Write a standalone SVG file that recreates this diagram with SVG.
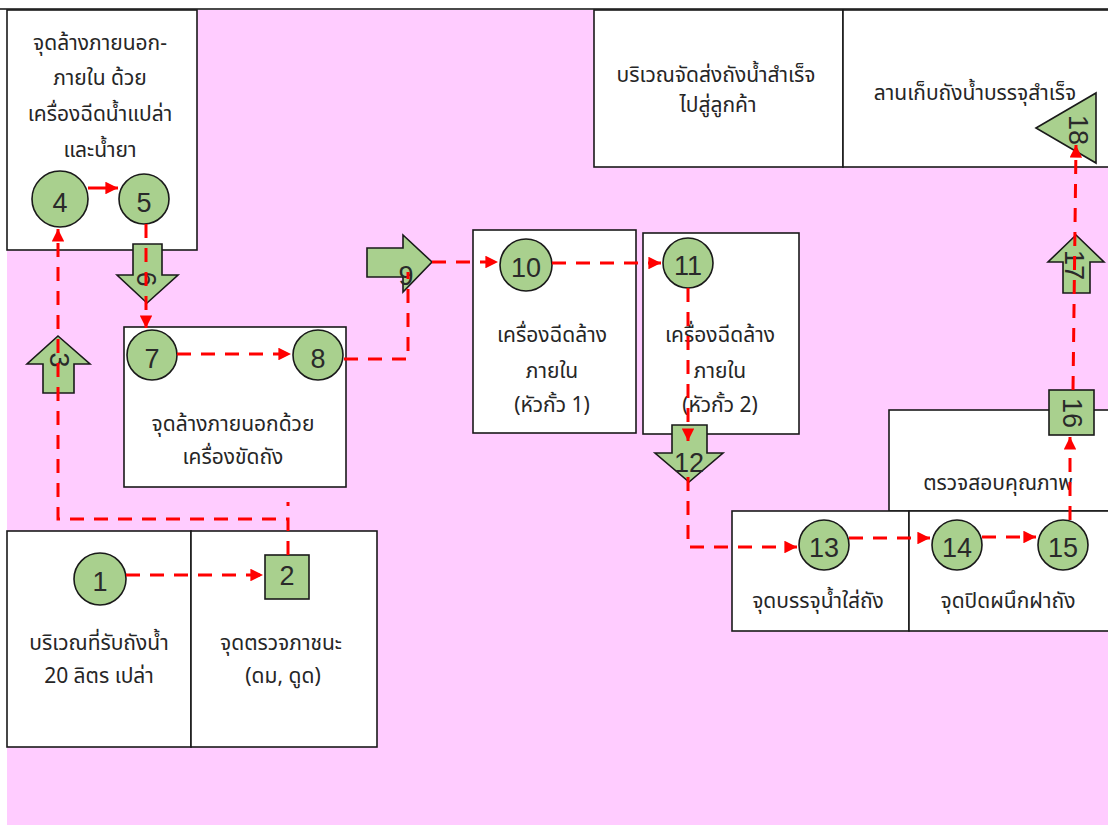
<svg xmlns="http://www.w3.org/2000/svg" width="1108" height="825" viewBox="0 0 1108 825">
  <defs>
    <style>
      .area { fill: #ffffff; stroke: #1a1a1a; stroke-width: 1.6; }
      .step { fill: #a9d08e; stroke: #1a1a1a; stroke-width: 1.6; }
      .num { font-family: "Liberation Sans", Arial, sans-serif; font-size: 27px; fill: #2a2a2a; text-anchor: middle; dominant-baseline: central; }
      .lbl { font-family: Tahoma, "Noto Sans Thai", "Leelawadee UI", "DejaVu Sans", sans-serif; font-size: 21px; fill: #262626; text-anchor: middle; }
      .flow { fill: none; stroke: #ff0000; stroke-width: 3; stroke-dasharray: 14 10; }
      .solid { fill: none; stroke: #ff0000; stroke-width: 3; }
    </style>
    <marker id="head" viewBox="0 0 10 10" refX="10" refY="5" markerWidth="4.2" markerHeight="4.2" orient="auto" markerUnits="strokeWidth">
      <path d="M0,0 L10,5 L0,10 Z" fill="#ff0000"/>
    </marker>
  </defs>

  <!-- floor background -->
  <rect x="0" y="0" width="1108" height="825" fill="#ffffff"/>
  <rect x="7" y="9" width="1101" height="816" fill="#ffccff"/>
  <line x1="0" y1="9" x2="1108" y2="9" stroke="#4a4a4a" stroke-width="2"/>

  <!-- zones -->
  <g id="zone-wash-in-out">
    <rect class="area" x="7" y="10" width="190" height="240"/>
    <text class="lbl" x="100" y="50">จุดล้างภายนอก-</text>
    <text class="lbl" x="100" y="85">ภายใน ด้วย</text>
    <text class="lbl" x="100" y="121">เครื่องฉีดน้ำแปล่า</text>
    <text class="lbl" x="100" y="157">และน้ำยา</text>
  </g>
  <g id="zone-dispatch">
    <rect class="area" x="594" y="10" width="249" height="157"/>
    <text class="lbl" x="716" y="82">บริเวณจัดส่งถังน้ำสำเร็จ</text>
    <text class="lbl" x="718" y="112">ไปสู่ลูกค้า</text>
  </g>
  <g id="zone-storage">
    <rect class="area" x="843" y="10" width="270" height="157"/>
    <text class="lbl" x="975" y="100">ลานเก็บถังน้ำบรรจุสำเร็จ</text>
  </g>
  <g id="zone-scrub">
    <rect class="area" x="124" y="327" width="222" height="160"/>
    <text class="lbl" x="233" y="431">จุดล้างภายนอกด้วย</text>
    <text class="lbl" x="233" y="464">เครื่องขัดถัง</text>
  </g>
  <g id="zone-rinse-1">
    <rect class="area" x="473" y="230" width="163" height="203"/>
    <text class="lbl" x="552" y="342">เครื่องฉีดล้าง</text>
    <text class="lbl" x="552" y="378">ภายใน</text>
    <text class="lbl" x="552" y="412">(หัวกั้ว 1)</text>
  </g>
  <g id="zone-rinse-2">
    <rect class="area" x="643" y="233" width="156" height="201"/>
    <text class="lbl" x="720" y="342">เครื่องฉีดล้าง</text>
    <text class="lbl" x="720" y="378">ภายใน</text>
    <text class="lbl" x="720" y="412">(หัวกั้ว 2)</text>
  </g>
  <g id="zone-qc">
    <rect class="area" x="889" y="410" width="224" height="101"/>
    <text class="lbl" x="998" y="490">ตรวจสอบคุณภาพ</text>
  </g>
  <g id="zone-fill">
    <rect class="area" x="732" y="511" width="177" height="120"/>
    <text class="lbl" x="818" y="608">จุดบรรจุน้ำใส่ถัง</text>
  </g>
  <g id="zone-seal">
    <rect class="area" x="909" y="511" width="204" height="120"/>
    <text class="lbl" x="1008" y="608">จุดปิดผนึกฝาถัง</text>
  </g>
  <g id="zone-receive">
    <rect class="area" x="7" y="531" width="184" height="216"/>
    <text class="lbl" x="99" y="650">บริเวณที่รับถังน้ำ</text>
    <text class="lbl" x="99" y="683">20 ลิตร เปล่า</text>
  </g>
  <g id="zone-inspect">
    <rect class="area" x="191" y="531" width="186" height="216"/>
    <text class="lbl" x="281" y="650">จุดตรวจภาชนะ</text>
    <text class="lbl" x="283" y="683">(ดม, ดูด)</text>
  </g>

  <!-- process steps -->
  <g id="step-1"><circle class="step" cx="100" cy="579" r="26"/><text class="num" x="100" y="582">1</text></g>
  <g id="step-2"><rect class="step" x="265" y="555" width="44" height="44"/><text class="num" x="287" y="576">2</text></g>
  <g id="step-3"><path class="step" d="M58,336 L90,364 L74,364 L74,393 L43,393 L43,364 L27,364 Z"/><text class="num" transform="translate(59,360) rotate(90)">3</text></g>
  <g id="step-4"><circle class="step" cx="60" cy="199" r="28"/><text class="num" x="60" y="203">4</text></g>
  <g id="step-5"><circle class="step" cx="144" cy="199" r="25"/><text class="num" x="144" y="203">5</text></g>
  <g id="step-6"><path class="step" d="M133,244 H162 V275 H178 L147,303 L117,275 H133 Z"/><text class="num" transform="translate(146,279) rotate(90)">6</text></g>
  <g id="step-7"><circle class="step" cx="152" cy="355" r="25"/><text class="num" x="152" y="359">7</text></g>
  <g id="step-8"><circle class="step" cx="318" cy="355" r="25"/><text class="num" x="318" y="359">8</text></g>
  <g id="step-9"><path class="step" d="M367,248 H403 V235 L432,262 L403,292 V277 H367 Z"/><text class="num" x="406" y="276">9</text></g>
  <g id="step-10"><circle class="step" cx="526" cy="265" r="26"/><text class="num" x="526" y="268">10</text></g>
  <g id="step-11"><circle class="step" cx="688" cy="263" r="25"/><text class="num" x="688" y="266">11</text></g>
  <g id="step-12"><path class="step" d="M672,425 H707 V453 H723 L689,482 L655,453 H672 Z"/><text class="num" x="689" y="463">12</text></g>
  <g id="step-13"><circle class="step" cx="824" cy="545" r="25"/><text class="num" x="824" y="548">13</text></g>
  <g id="step-14"><circle class="step" cx="957" cy="545" r="25"/><text class="num" x="957" y="548">14</text></g>
  <g id="step-15"><circle class="step" cx="1063" cy="545" r="25"/><text class="num" x="1063" y="548">15</text></g>
  <g id="step-16"><rect class="step" x="1049" y="390" width="45" height="45"/><text class="num" transform="translate(1072,413) rotate(90)">16</text></g>
  <g id="step-17"><path class="step" d="M1076,235 L1104,262 L1090,262 L1090,293 L1063,293 L1063,262 L1048,262 Z"/><text class="num" transform="translate(1074,265) rotate(90)">17</text></g>
  <g id="step-18"><path class="step" d="M1036,128 L1096,93 L1096,163 Z"/><text class="num" transform="translate(1078,130) rotate(90)">18</text></g>

  <!-- flow connectors -->
  <g id="connectors">
    <path class="flow" d="M126,575 H263" marker-end="url(#head)"/>
    <path class="flow" d="M288,555 V519 H58 V229" marker-end="url(#head)"/>
    <path class="flow" d="M288,502 V506" stroke-dasharray="none"/>
    <path class="solid" d="M88,188 H118" marker-end="url(#head)"/>
    <path class="flow" d="M146,224 V328" marker-end="url(#head)"/>
    <path class="flow" d="M177,354 H291" marker-end="url(#head)"/>
    <path class="flow" d="M344,359 H408 V272"/>
    <path class="flow" d="M432,262 H498" marker-end="url(#head)"/>
    <path class="flow" d="M552,263 H661" marker-end="url(#head)"/>
    <path class="flow" d="M688,288 V441" marker-end="url(#head)"/>
    <path class="flow" d="M688,477 V547 H797" marker-end="url(#head)"/>
    <path class="flow" d="M849,538 H930" marker-end="url(#head)"/>
    <path class="flow" d="M982,537 H1036" marker-end="url(#head)"/>
    <path class="flow" d="M1070,520 V437" marker-end="url(#head)"/>
    <path class="flow" d="M1073,390 L1076,145" marker-end="url(#head)"/>
  </g>
</svg>
